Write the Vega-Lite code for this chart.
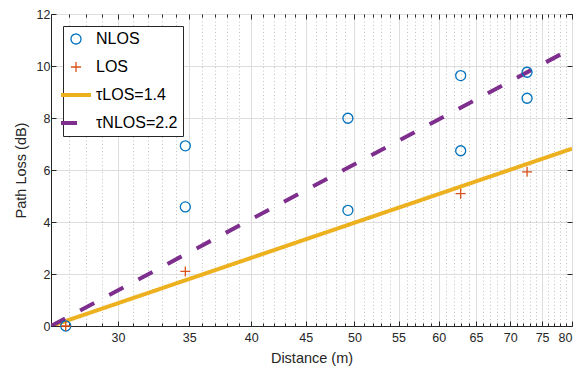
{
  "$schema": "https://vega.github.io/schema/vega-lite/v6.json",
  "width": 521,
  "height": 312,
  "autosize": {"type": "none"},
  "padding": {"left": 51, "top": 14, "right": 9, "bottom": 44},
  "config": {
    "font": "Liberation Sans",
    "view": {"stroke": "#262626", "strokeWidth": 1},
    "axis": {
      "domainColor": "#262626",
      "tickColor": "#262626",
      "labelColor": "#262626",
      "titleColor": "#262626",
      "labelFont": "Liberation Sans",
      "titleFont": "Liberation Sans",
      "labelFontSize": 12.5,
      "titleFontSize": 14.5,
      "titleFontWeight": "normal"
    },
    "legend": {
      "fillColor": "white",
      "strokeColor": "#262626",
      "padding": 5,
      "labelFont": "Liberation Sans",
      "labelFontSize": 16,
      "labelColor": "#000000",
      "symbolSize": 900,
      "rowPadding": 12,
      "labelOffset": 12
    }
  },
  "datasets": {
    "meas": [
      {"distance": 26.8, "pathloss": 0, "series": "NLOS"},
      {"distance": 34.7, "pathloss": 6.93, "series": "NLOS"},
      {"distance": 34.7, "pathloss": 4.58, "series": "NLOS"},
      {"distance": 49.3, "pathloss": 7.99, "series": "NLOS"},
      {"distance": 49.3, "pathloss": 4.45, "series": "NLOS"},
      {"distance": 62.9, "pathloss": 9.63, "series": "NLOS"},
      {"distance": 62.9, "pathloss": 6.74, "series": "NLOS"},
      {"distance": 72.6, "pathloss": 9.76, "series": "NLOS"},
      {"distance": 72.6, "pathloss": 8.76, "series": "NLOS"},
      {"distance": 26.8, "pathloss": 0, "series": "LOS"},
      {"distance": 34.7, "pathloss": 2.1, "series": "LOS"},
      {"distance": 62.9, "pathloss": 5.09, "series": "LOS"},
      {"distance": 72.6, "pathloss": 5.93, "series": "LOS"}
    ],
    "fit": [
      {"distance": 25.96, "pathloss": 0, "series": "τLOS=1.4"},
      {"distance": 80, "pathloss": 6.82, "series": "τLOS=1.4"},
      {"distance": 25.96, "pathloss": 0, "series": "τNLOS=2.2"},
      {"distance": 80, "pathloss": 10.68, "series": "τNLOS=2.2"}
    ]
  },
  "layer": [
    {
      "data": {"name": "fit"},
      "mark": {"type": "line", "strokeWidth": 4, "strokeCap": "butt", "clip": true},
      "encoding": {
        "x": {
          "field": "distance",
          "type": "quantitative",
          "scale": {"type": "log", "domain": [25.96, 80], "nice": false},
          "axis": {
            "orient": "bottom",
            "title": "Distance (m)",
            "values": [27,28,29,30,31,32,33,34,35,36,37,38,39,40,41,42,43,44,45,46,47,48,49,50,51,52,53,54,55,56,57,58,59,60,61,62,63,64,65,66,67,68,69,70,71,72,73,74,75,76,77,78,79,80],
            "format": "d",
            "labelExpr": "datum.value % 5 === 0 ? datum.label : ''",
            "labelOverlap": false,
            "labelPadding": 10.5,
            "tickSize": {"condition": {"test": "datum.value % 5 === 0", "value": -5}, "value": -3},
            "grid": true,
            "gridColor": {"condition": {"test": "datum.value % 5 === 0", "value": "#dedede"}, "value": "#c2c2c2"},
            "gridDash": {"condition": {"test": "datum.value % 5 === 0", "value": []}, "value": [1, 2.5]},
            "titlePadding": 5
          }
        },
        "y": {
          "field": "pathloss",
          "type": "quantitative",
          "scale": {"domain": [0, 12], "nice": false, "zero": false},
          "axis": {
            "orient": "left",
            "title": "Path Loss (dB)",
            "values": [0, 2, 4, 6, 8, 10, 12],
            "tickSize": -5,
            "labelPadding": 6,
            "grid": true,
            "gridColor": "#dedede",
            "titlePadding": 8
          }
        },
        "color": {
          "field": "series",
          "type": "nominal",
          "scale": {"domain": ["NLOS", "LOS", "τLOS=1.4", "τNLOS=2.2"], "range": ["#0072BD", "#D95319", "#EDB120", "#7E2F8E"]},
          "legend": {
            "title": null,
            "orient": "top-left",
            "offset": 12,
            "encode": {
              "symbols": {
                "update": {
                  "size": {"signal": "datum.value === 'NLOS' || datum.value === 'LOS' ? 100 : 900"},
                  "strokeWidth": {"signal": "datum.value === 'NLOS' || datum.value === 'LOS' ? 1.3 : 4"},
                  "fill": {"value": "transparent"}
                }
              }
            }
          }
        },
        "strokeDash": {
          "field": "series",
          "type": "nominal",
          "scale": {"domain": ["NLOS", "LOS", "τLOS=1.4", "τNLOS=2.2"], "range": [[1, 0], [1, 0], [1, 0], [16, 17]]},
          "legend": {"title": null}
        }
      }
    },
    {
      "data": {"name": "meas"},
      "mark": {"type": "point", "filled": false, "size": 100, "strokeWidth": 1.3, "opacity": 1},
      "encoding": {
        "x": {
          "field": "distance",
          "type": "quantitative",
          "scale": {"type": "log", "domain": [25.96, 80], "nice": false},
          "axis": {
            "orient": "top",
            "title": null,
            "labels": false,
            "domain": false,
            "grid": false,
            "values": [27,28,29,30,31,32,33,34,35,36,37,38,39,40,41,42,43,44,45,46,47,48,49,50,51,52,53,54,55,56,57,58,59,60,61,62,63,64,65,66,67,68,69,70,71,72,73,74,75,76,77,78,79,80],
            "tickSize": {"condition": {"test": "datum.value % 5 === 0", "value": -5}, "value": -3}
          }
        },
        "y": {
          "field": "pathloss",
          "type": "quantitative",
          "scale": {"domain": [0, 12], "nice": false, "zero": false},
          "axis": {
            "orient": "right",
            "title": null,
            "labels": false,
            "domain": false,
            "grid": false,
            "values": [0, 2, 4, 6, 8, 10, 12],
            "tickSize": -5
          }
        },
        "color": {
          "field": "series",
          "type": "nominal",
          "scale": {"domain": ["NLOS", "LOS", "τLOS=1.4", "τNLOS=2.2"], "range": ["#0072BD", "#D95319", "#EDB120", "#7E2F8E"]}
        },
        "shape": {
          "field": "series",
          "type": "nominal",
          "scale": {"domain": ["NLOS", "LOS", "τLOS=1.4", "τNLOS=2.2"], "range": ["circle", "M-1,0H1M0,-1V1", "stroke", "stroke"]},
          "legend": {"title": null}
        }
      }
    }
  ],
  "resolve": {"axis": {"x": "independent", "y": "independent"}}
}
